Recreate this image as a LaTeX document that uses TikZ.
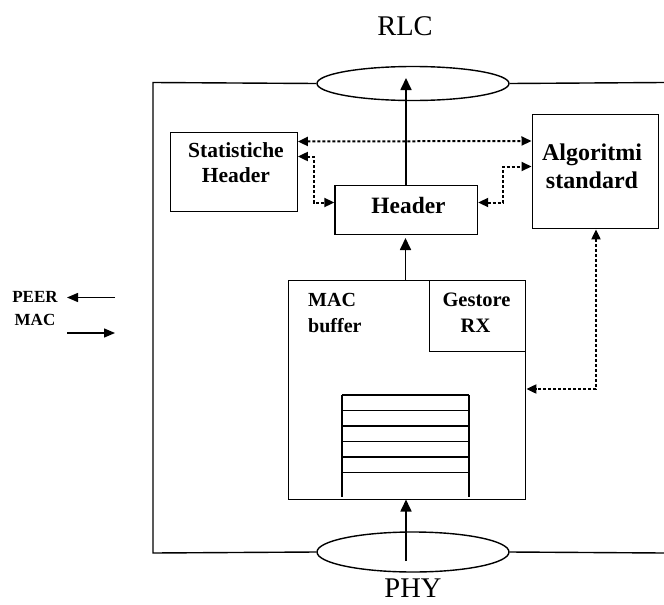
\documentclass[tikz,border=0pt]{standalone}
\usepackage{fontspec}
\setmainfont{Liberation Serif}
\usetikzlibrary{arrows.meta,shapes.geometric,calc}

\tikzset{
  frame/.style={line width=1.4pt},
  box/.style={draw, line width=1.4pt, rectangle, inner sep=0pt, anchor=north west},
  sap/.style={draw, line width=1.4pt, ellipse, fill=white, inner sep=0pt,
              minimum width=192pt},
  flow/.style={line width=1.7pt, -{Triangle[length=12pt,width=11pt]}},
  ctrl/.style={line width=2pt, dash pattern=on 3pt off 2pt,
               {Triangle[length=10pt,width=9pt]}-{Triangle[length=10pt,width=9pt]}},
  thin/.style={line width=1.3pt},
  btxt/.style={anchor=base, inner sep=0pt, font=\bfseries\fontsize{#1}{#1}\selectfont},
  btxt/.default=20,
  ltxt/.style={anchor=base west, inner sep=0pt, font=\bfseries\fontsize{20}{20}\selectfont},
  rtxt/.style={anchor=base, inner sep=0pt, font=\fontsize{28.5}{28.5}\selectfont},
  peer/.style={line width=1.4pt, -{Triangle[length=11pt,width=9pt]}}
}

\begin{document}
\begin{tikzpicture}[x=1pt,y=-1pt]
  \useasboundingbox (0,0) rectangle (664,605);

  % layer boundary with the two service access points
  \node[sap, minimum height=34pt] (rlcsap) at (413,83.5) {};
  \node[sap, minimum height=40pt] (physap) at (413,552) {};
  \coordinate (ftl) at (153,82.5);
  \coordinate (fbl) at (153,553);
  \coordinate (ftr) at (664,82.5);
  \coordinate (fbr) at (664,553);
  \draw[frame] (rlcsap.west) -- (ftl) -- (fbl) -- (physap.west);
  \draw[frame] (rlcsap.east) -- (ftr);
  \draw[frame] (physap.east) -- (fbr);

  % layer names
  \node[rtxt] (rlc) at (405,35) {RLC};
  \node[rtxt] (phy) at (413,597) {PHY};

  % functional blocks
  \node[box, minimum width=127pt, minimum height=79pt] (stat) at (169.5,131.5) {};
  \node[box, minimum width=142.5pt, minimum height=48.5pt] (hdr) at (334.3,185) {};
  \node[box, minimum width=126pt, minimum height=114pt] (alg) at (531.5,114) {};
  \node[box, minimum width=237pt, minimum height=219pt] (mac) at (288,280) {};
  \node[box, minimum width=96pt, minimum height=71pt] (rx) at (429,280) {};

  % block labels
  \node[btxt=21.5] (statA) at (236,157) {Statistiche};
  \node[btxt=21.5] (statB) at (236,182) {Header};
  \node[btxt=23.4] (hdrA) at (408.5,213) {Header};
  \node[btxt=24] (algA) at (592,160) {Algoritmi};
  \node[btxt=24] (algB) at (592,188) {standard};
  \node[ltxt] (macA) at (308,306) {MAC};
  \node[ltxt] (macB) at (308,332) {buffer};
  \node[btxt=20.5] (rxA) at (476.5,306) {Gestore};
  \node[btxt=20.5] (rxB) at (475.5,332) {RX};

  % queue inside the MAC buffer
  \coordinate (qtl) at (342,395);
  \coordinate (qtr) at (469,395);
  \coordinate (qbl) at (342,497);
  \coordinate (qbr) at (469,497);
  \draw[thin] (qtl) -- (qbl);
  \draw[thin] (qtr) -- (qbr);
  \foreach \yy in {395,410.5,426,441.5,457,472.5}
    \draw[thin] (342,\yy) -- (469,\yy);

  % data path: PHY -> MAC buffer -> Header -> RLC
  \coordinate (phyin) at (406,561);
  \coordinate (rlcout) at (406,78);
  \draw[flow] (phyin) -- (406,499.5);
  \draw[flow] (405.5,280) -- (405.5,238);
  \draw[flow] (406,185) -- (rlcout);

  % control exchanges
  \draw[ctrl] ([yshift=-10pt]stat.north east) -- (alg.west |- {(0,141)});
  \draw[ctrl] ([yshift=-25pt]stat.north east) -| (313.5,202.5) -- (hdr.west |- {(0,202.5)});
  \draw[ctrl] (hdr.east |- {(0,202.5)}) -| (503,166.5) -- (alg.west |- {(0,166.5)});
  \draw[ctrl] (alg.south -| {(596,0)}) |- (mac.east |- {(0,389)});

  % peer MAC indication
  \node[btxt=17] (peerA) at (35,302) {PEER};
  \node[btxt=17] (peerB) at (35,325) {MAC};
  \coordinate (pin1) at (115,297.5);
  \coordinate (pin2) at (67,297.5);
  \coordinate (pout1) at (67,333);
  \coordinate (pout2) at (115,333);
  \draw[peer] (pin1) -- (pin2);
  \draw[peer] (pout1) -- (pout2);
\end{tikzpicture}
\end{document}
